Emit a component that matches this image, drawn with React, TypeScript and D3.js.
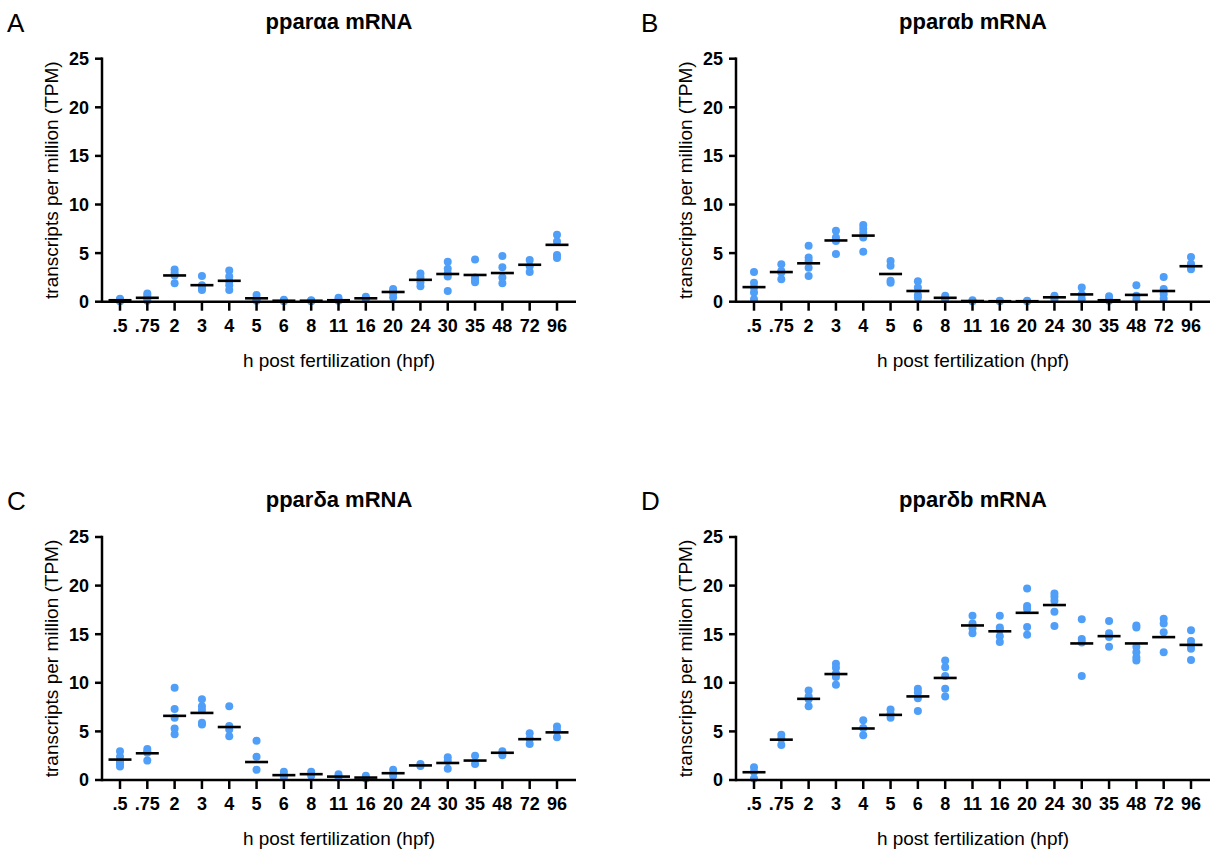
import React from 'react';
import * as d3 from 'd3';

// hours post fertilization
const categories = ['.5', '.75', '2', '3', '4', '5', '6', '8', '11', '16', '20', '24', '30', '35', '48', '72', '96'];
const yTicks = [0, 5, 10, 15, 20, 25];

// pparαa
const alphaAPoints = [
  [0.3, 0.2, 0.1, 0.05], [0.85, 0.6, 0.35, 0.1], [3.3, 2.95, 2.7, 1.9], [2.65, 1.7, 1.4, 1.2],
  [3.2, 2.6, 2.1, 1.7, 1.2], [0.7, 0.2, 0.1], [0.2, 0.1, 0.05], [0.15, 0.1, 0.05],
  [0.4, 0.2, 0.1], [0.5, 0.35, 0.3], [1.3, 1.1, 0.9, 0.45], [2.9, 2.5, 2.0, 1.6],
  [4.1, 3.4, 2.9, 2.6, 1.1], [4.35, 2.5, 2.2, 2.0], [4.7, 3.55, 2.5, 1.9], [4.3, 3.65, 3.05],
  [6.9, 6.2, 4.8, 4.5],
];
const alphaAMeans = [0.15, 0.4, 2.7, 1.7, 2.15, 0.35, 0.1, 0.1, 0.15, 0.35, 1.0, 2.25, 2.85, 2.75, 2.95, 3.8, 5.85];

// pparαb
const alphaBPoints = [
  [3.05, 1.95, 1.45, 0.95, 0.25], [3.85, 3.15, 3.0, 2.3], [5.75, 4.55, 4.2, 3.5, 2.65], [7.3, 6.6, 6.25, 4.9],
  [7.9, 7.5, 7.1, 6.6, 5.15], [4.2, 3.7, 2.15, 1.95], [2.1, 1.45, 0.7, 0.4], [0.6, 0.35, 0.25],
  [0.15, 0.05], [0.1, 0.05], [0.1, 0.05], [0.6, 0.45, 0.25],
  [1.45, 0.75, 0.25], [0.55, 0.2, 0.1], [1.7, 0.6, 0.2], [2.55, 1.3, 0.8, 0.3],
  [4.6, 3.9, 3.6, 3.35],
];
const alphaBMeans = [1.5, 3.05, 3.95, 6.3, 6.8, 2.85, 1.1, 0.4, 0.07, 0.05, 0.05, 0.45, 0.75, 0.15, 0.7, 1.1, 3.65];

// pparδa
const deltaAPoints = [
  [2.95, 2.4, 1.9, 1.7, 1.4], [3.2, 2.9, 2.8, 2.0], [9.5, 7.3, 6.4, 5.3, 4.7], [8.3, 7.6, 7.2, 5.9, 5.7],
  [7.6, 5.55, 5.2, 4.5], [4.05, 2.4, 1.05], [0.85, 0.5, 0.3], [0.85, 0.45],
  [0.6, 0.3], [0.45, 0.15], [1.05, 0.45], [1.65, 1.45],
  [2.35, 1.95, 1.15], [2.5, 1.65], [2.95, 2.55], [4.8, 4.25, 3.7],
  [5.5, 5.1, 4.4],
];
const deltaAMeans = [2.1, 2.75, 6.6, 6.9, 5.45, 1.85, 0.5, 0.6, 0.35, 0.25, 0.7, 1.5, 1.75, 2.0, 2.8, 4.2, 4.9];

// pparδb
const deltaBPoints = [
  [1.3, 0.85, 0.15], [4.65, 4.25, 3.6], [9.2, 8.6, 8.3, 7.6], [11.95, 11.55, 10.95, 10.6, 9.8],
  [6.15, 5.35, 4.6], [7.25, 6.8, 6.4], [9.4, 9.0, 8.4, 7.1], [12.3, 11.6, 10.7, 9.4, 8.6],
  [16.9, 16.1, 15.6, 15.1], [16.9, 15.7, 15.45, 14.8, 14.2], [19.7, 17.9, 17.6, 15.75, 14.95], [19.2, 18.85, 18.45, 17.3, 15.85],
  [16.55, 14.5, 14.15, 10.7], [16.35, 15.1, 14.7, 13.7], [15.9, 15.7, 13.7, 13.15, 12.6, 12.3], [16.6, 16.1, 15.2, 13.15],
  [15.4, 14.3, 13.9, 13.5, 12.35],
];
const deltaBMeans = [0.8, 4.15, 8.35, 10.9, 5.3, 6.7, 8.6, 10.5, 15.9, 15.3, 17.2, 18.0, 14.05, 14.8, 14.05, 14.7, 13.9];

const FONT = '"Liberation Sans", Arial, Helvetica, sans-serif';
const DOT = '#4f9ef8';

type PanelProps = {
  letter: string;
  title: string;
  points: number[][];
  means: number[];
  left: number;
  top: number;
};

const Panel = ({ letter, title, points, means, left, top }: PanelProps) => {
  const x = d3.scalePoint<string>().domain(categories).range([left + 18, left + 455]);
  const y = d3.scaleLinear().domain([0, 25]).range([top + 301.7, top + 58.7]);
  const right = left + 474;
  const cx = left + 237;

  return (
    <g fontFamily={FONT}>
      <text x={left - 95} y={top + 32} fontSize={26}>{letter}</text>
      <text x={cx} y={top + 29} fontSize={22} fontWeight="bold" textAnchor="middle">{title}</text>

      {/* dots */}
      {points.map((vals, i) =>
        vals.map((v, j) => (
          <circle key={i + '-' + j} cx={x(categories[i])} cy={y(v)} r={4} fill={DOT} />
        ))
      )}
      {/* mean lines */}
      {means.map((m, i) => (
        <line key={'m' + i} x1={x(categories[i])! - 11.5} x2={x(categories[i])! + 11.5}
          y1={y(m)} y2={y(m)} stroke="#000" strokeWidth={2.6} />
      ))}

      {/* y axis */}
      <line x1={left} x2={left} y1={y(0)} y2={y(25)} stroke="#000" strokeWidth={2.5} strokeLinecap="square" />
      {yTicks.map(t => (
        <g key={'y' + t}>
          <line x1={left - 7} x2={left} y1={y(t)} y2={y(t)} stroke="#000" strokeWidth={2.5} />
          <text x={left - 13} y={y(t)} dy="0.36em" fontSize={18} fontWeight="bold" textAnchor="end">{t}</text>
        </g>
      ))}
      {/* x axis */}
      <line x1={left} x2={right} y1={y(0)} y2={y(0)} stroke="#000" strokeWidth={2.5} />
      {categories.map(c => (
        <g key={'x' + c}>
          <line x1={x(c)} x2={x(c)} y1={y(0)} y2={y(0) + 9} stroke="#000" strokeWidth={2.5} />
          <text x={x(c)} y={top + 332} fontSize={18} fontWeight="bold" textAnchor="middle">{c}</text>
        </g>
      ))}

      <text x={cx} y={top + 367} fontSize={19} textAnchor="middle">h post fertilization (hpf)</text>
      <text transform={`translate(${left - 44},${(y(0) + y(25)) / 2}) rotate(-90)`} fontSize={19}
        textAnchor="middle">transcripts per million (TPM)</text>
    </g>
  );
};

export default function App() {
  return (
    <svg width={1225} height={856} style={{ position: 'absolute', left: 0, top: 0, background: '#fff' }}>
      <rect width={1225} height={856} fill="#fff" />
      <Panel letter="A" title="pparαa mRNA" points={alphaAPoints} means={alphaAMeans} left={102} top={0} />
      <Panel letter="B" title="pparαb mRNA" points={alphaBPoints} means={alphaBMeans} left={736} top={0} />
      <Panel letter="C" title="pparδa mRNA" points={deltaAPoints} means={deltaAMeans} left={102} top={478.3} />
      <Panel letter="D" title="pparδb mRNA" points={deltaBPoints} means={deltaBMeans} left={736} top={478.3} />
    </svg>
  );
}
